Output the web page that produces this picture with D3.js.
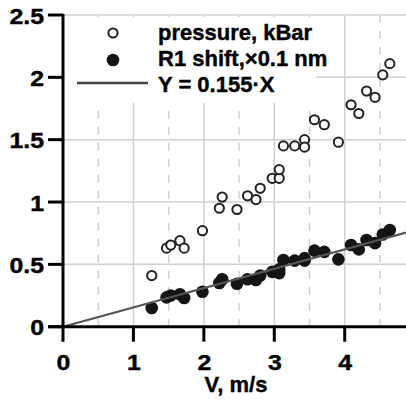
<!DOCTYPE html>
<html lang="en">
<head>
<meta charset="UTF-8">
<title>Pressure and R1 shift vs velocity</title>
<script src="https://d3js.org/d3.v7.min.js"></script>
</head>
<body style="margin:0; background:#fff">
<div id="chart"></div>
<script>
    // data
    const velocity = [1.26, 1.47, 1.53, 1.66, 1.72, 1.98, 2.22, 2.26, 2.47, 2.62, 2.74, 2.80, 2.97, 3.07,
        3.07, 3.13, 3.29, 3.43, 3.43, 3.57, 3.71, 3.91, 4.09, 4.20, 4.31, 4.43, 4.54, 4.64];
    const pressure = [0.41, 0.63, 0.655, 0.69, 0.63, 0.77, 0.95, 1.04, 0.94, 1.05, 1.02, 1.11, 1.19, 1.19,
        1.26, 1.45, 1.45, 1.50, 1.44, 1.66, 1.62, 1.48, 1.78, 1.71, 1.89, 1.84, 2.02, 2.11];
    const r1shift = [0.15, 0.235, 0.25, 0.26, 0.23, 0.28, 0.35, 0.38, 0.345, 0.38, 0.375, 0.41, 0.44, 0.43,
        0.46, 0.535, 0.53, 0.53, 0.55, 0.61, 0.60, 0.54, 0.655, 0.62, 0.695, 0.67, 0.74, 0.775];
    const slope = 0.155;
    const xTicks = [0, 1, 2, 3, 4];
    const yTicks = [0, 0.5, 1, 1.5, 2, 2.5];
    const legendLabels = ["pressure, kBar", "R1 shift,\u00d70.1 nm", "Y = 0.155\u00b7X"];

    const width = 406, height = 401;
    const margin = { left: 63, top: 15, bottom: 74 };

    const x = d3.scaleLinear().domain([0, 4.87]).range([margin.left, width]);
    const y = d3.scaleLinear().domain([0, 2.5]).range([height - margin.bottom - 0.3, margin.top]);

    const svg = d3.select("#chart").append("svg")
        .attr("width", width)
        .attr("height", height);

    function label(sel) {
        return sel.style("font-family", '"Liberation Sans", Arial, sans-serif')
            .style("font-weight", "bold")
            .style("font-size", "22px")
            .attr("fill", "#000")
            .attr("stroke", "#000")
            .attr("stroke-width", 0.4);
    }

    // grid
    const grid = svg.append("g").attr("stroke", "#d0d0d0").attr("stroke-width", 1.5);
    grid.selectAll(".hg")
        .data(yTicks.filter(d => d > 0))
        .join("line")
        .attr("x1", x(0)).attr("x2", width)
        .attr("y1", d => y(d)).attr("y2", d => y(d));
    grid.selectAll(".vg")
        .data(d3.range(0.5, 4.9, 0.5))
        .join("line")
        .attr("x1", d => x(d)).attr("x2", d => x(d))
        .attr("y1", y(0)).attr("y2", y(2.5))
        .attr("stroke-dasharray", d => d % 1 === 0 ? null : "8,8");

    // legend box covers part of the grid
    svg.append("rect")
        .attr("x", x(0) + 2).attr("y", y(2.5) + 2)
        .attr("width", 251).attr("height", 86)
        .attr("fill", "#fff");

    const pts = velocity.map((v, i) => ({ v, p: pressure[i], r: r1shift[i] }));

    svg.append("g").selectAll("circle")
        .data(pts)
        .join("circle")
        .attr("cx", d => x(d.v)).attr("cy", d => y(d.r))
        .attr("r", 6.3)
        .attr("fill", "#141414");

    svg.append("g").selectAll("circle")
        .data(pts)
        .join("circle")
        .attr("cx", d => x(d.v)).attr("cy", d => y(d.p))
        .attr("r", 4.6)
        .attr("fill", "#fff")
        .attr("stroke", "#222")
        .attr("stroke-width", 2);

    // fit line, drawn over the dots as in the original
    svg.append("line")
        .attr("x1", x(0)).attr("y1", y(0))
        .attr("x2", x(4.87)).attr("y2", y(slope * 4.87))
        .attr("stroke", "#555").attr("stroke-width", 2.2);

    // axes
    const axes = svg.append("g").attr("stroke", "#000").attr("stroke-width", 3);
    axes.append("line")
        .attr("x1", x(0)).attr("x2", x(0))
        .attr("y1", y(2.5) - 1).attr("y2", y(0));
    axes.append("line")
        .attr("x1", x(0) - 15).attr("x2", width)
        .attr("y1", y(0)).attr("y2", y(0));
    axes.selectAll(".yt")
        .data(yTicks)
        .join("line")
        .attr("x1", x(0) - 15).attr("x2", x(0))
        .attr("y1", d => y(d)).attr("y2", d => y(d));
    axes.selectAll(".xt")
        .data(xTicks)
        .join("line")
        .attr("x1", d => x(d)).attr("x2", d => x(d))
        .attr("y1", y(0)).attr("y2", y(0) + 15);

    // tick labels are a little wider in the original
    svg.append("g").selectAll("text")
        .data(yTicks)
        .join("text")
        .attr("transform", d => `translate(${x(0) - 19},${y(d) + 8.5}) scale(1.13,1)`)
        .attr("text-anchor", "end")
        .call(label)
        .text(d => d);

    svg.append("g").selectAll("text")
        .data(xTicks)
        .join("text")
        .attr("transform", d => `translate(${x(d) + 0.5},${y(0) + 43.5}) scale(1.13,1)`)
        .attr("text-anchor", "middle")
        .call(label)
        .text(d => d);

    svg.append("text")
        .attr("x", 236)
        .attr("y", 392)
        .attr("text-anchor", "middle")
        .call(label)
        .text("V, m/s");

    // legend
    const lg = svg.append("g");
    lg.append("circle").attr("cx", 113).attr("cy", 33).attr("r", 4.6)
        .attr("fill", "#fff").attr("stroke", "#222").attr("stroke-width", 2);
    lg.append("circle").attr("cx", 113).attr("cy", 60).attr("r", 6.3).attr("fill", "#141414");
    lg.append("line").attr("x1", 77).attr("x2", 148).attr("y1", 83).attr("y2", 83)
        .attr("stroke", "#444").attr("stroke-width", 2.5);
    lg.selectAll("text")
        .data(legendLabels)
        .join("text")
        .attr("x", 158)
        .attr("y", (d, i) => 40 + i * 26)
        .call(label)
        .text(d => d);
</script>
</body>
</html>
